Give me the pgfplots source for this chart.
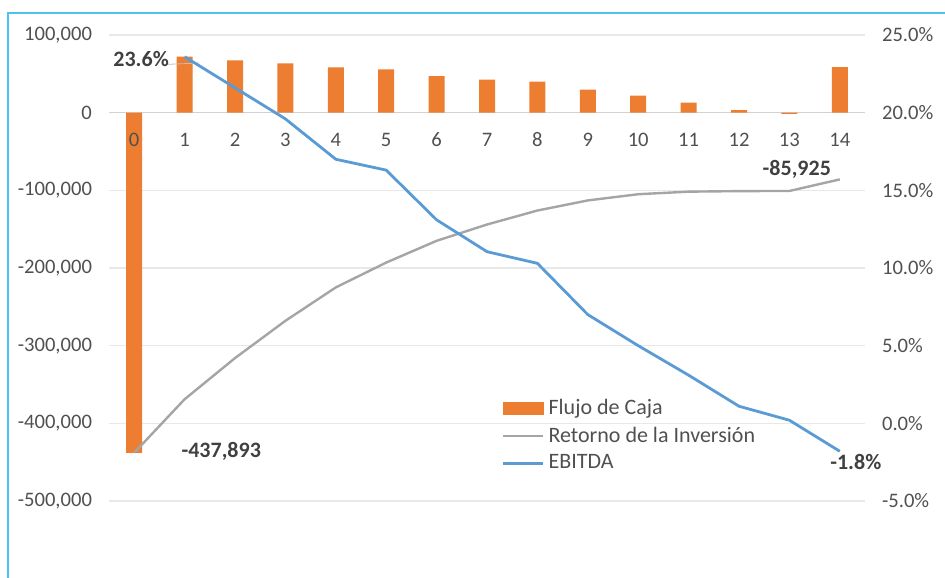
\documentclass[border=0pt]{standalone}
\usepackage{pgfplots}
\usepackage{pgfplotstable}
\pgfplotsset{compat=1.18}
\usepackage{fontspec}
\setmainfont{Carlito}
\definecolor{barorange}{HTML}{ED7D31}
\definecolor{retgray}{HTML}{A5A5A5}
\definecolor{ebblue}{HTML}{5B9BD5}
\definecolor{framebl}{HTML}{4FC1F0}
\definecolor{txt}{HTML}{505050}
\definecolor{lbl}{HTML}{404040}

\pgfplotstableread{
x flujo retorno
0 -437893 -437893
1 72100 -369000
2 67300 -316000
3 63400 -268000
4 58300 -225000
5 55700 -193000
6 47200 -165000
7 42500 -144000
8 39900 -126000
9 29600 -113000
10 21900 -105000
11 12900 -101700
12 3400 -101000
13 -1700 -100800
14 58800 -85925
}\flujo

\pgfplotstableread{
x ebitda
1 23.6
2 21.6
3 19.6
4 17.0
5 16.3
6 13.1
7 11.05
8 10.3
9 7.0
10 5.0
11 3.1
12 1.1
13 0.2
14 -1.8
}\ebitda

\begin{document}
\begin{tikzpicture}
\useasboundingbox (0,0) rectangle (472.5pt,288.5pt);
\draw[framebl, line width=1pt] (4pt,-10pt) -- (4pt,282pt) -- (490pt,282pt);

\begin{axis}[
  at={(54.5pt,38pt)}, anchor=south west, scale only axis,
  width=378pt, height=233pt, clip=false,
  xmin=-0.5, xmax=14.5, ymin=-500000, ymax=100000,
  ytick={-500000,-400000,-300000,-200000,-100000,0,100000},
  xtick=\empty,
  ymajorgrids, grid style={draw=gray!18, line width=0.6pt},
  axis line style={draw=none}, tick style={draw=none},
  scaled y ticks=false,
  /pgf/number format/assume math mode=true,
  yticklabel style={/pgf/number format/fixed, /pgf/number format/1000 sep={,},
     font=\fontsize{10.3}{12}\selectfont, text=txt, xshift=-5pt},
]
\draw[gray!35, line width=0.6pt] (axis cs:-0.5,0) -- (axis cs:14.5,0);
\addplot[ybar, bar width=8pt, fill=barorange, draw=none] table[x=x, y=flujo] {\flujo};
\addplot[retgray, line width=1.2pt] table[x=x, y=retorno] {\flujo};
\draw[gray!50, line width=0.4pt] (axis cs:0,-437893) ++(3pt,0) -- ++(17pt,0.7pt);
\node[font=\bfseries\fontsize{11}{13}\selectfont, text=lbl, anchor=west, inner sep=0pt, xshift=23.5pt, yshift=0.6pt] at (axis cs:0,-437893) {-437,893};
\node[font=\bfseries\fontsize{11}{13}\selectfont, text=lbl, inner sep=0pt, xshift=-21.5pt, yshift=5pt] at (axis cs:14,-85925) {-85,925};
\end{axis}

\begin{axis}[
  at={(54.5pt,38pt)}, anchor=south west, scale only axis,
  width=378pt, height=233pt, clip=false,
  xmin=-0.5, xmax=14.5, ymin=-5, ymax=25,
  ytick={-5,0,5,10,15,20,25},
  xtick={0,...,14},
  xticklabel style={anchor=center, yshift=180.5pt, font=\fontsize{10.3}{12}\selectfont, text=txt},
  axis line style={draw=none}, tick style={draw=none},
  yticklabel pos=right,
  /pgf/number format/assume math mode=true,
  yticklabel={\pgfmathprintnumber[fixed, fixed zerofill, precision=1]{\tick}\%},
  yticklabel style={font=\fontsize{10.3}{12}\selectfont, text=txt, xshift=5pt},
  legend cell align=left,
  legend style={at={(0.519,0.227)}, anchor=north west, draw=none, fill=none,
     font=\fontsize{11}{12.5}\selectfont, text=txt, row sep=0.6pt, inner sep=0pt},
]
\addlegendimage{legend image code/.code={\fill[barorange] (0pt,-3pt) rectangle (20pt,3pt);}}
\addlegendentry{Flujo de Caja}
\addlegendimage{legend image code/.code={\draw[retgray, line width=1.2pt] (0pt,0pt) -- (20pt,0pt);}}
\addlegendentry{Retorno de la Inversión}
\addplot[ebblue, line width=1.4pt, legend image code/.code={\draw[ebblue, line width=1.4pt] (0pt,0pt) -- (20pt,0pt);}] table[x=x, y=ebitda] {\ebitda};
\addlegendentry{EBITDA}
\node[font=\bfseries\fontsize{11}{13}\selectfont, text=lbl, inner sep=0pt, xshift=-21.75pt, yshift=-1pt] at (axis cs:1,23.6) {23.6\%};
\node[font=\bfseries\fontsize{11}{13}\selectfont, text=lbl, inner sep=0pt, xshift=8pt, yshift=-5.5pt] at (axis cs:14,-1.8) {-1.8\%};
\end{axis}
\end{tikzpicture}
\end{document}
